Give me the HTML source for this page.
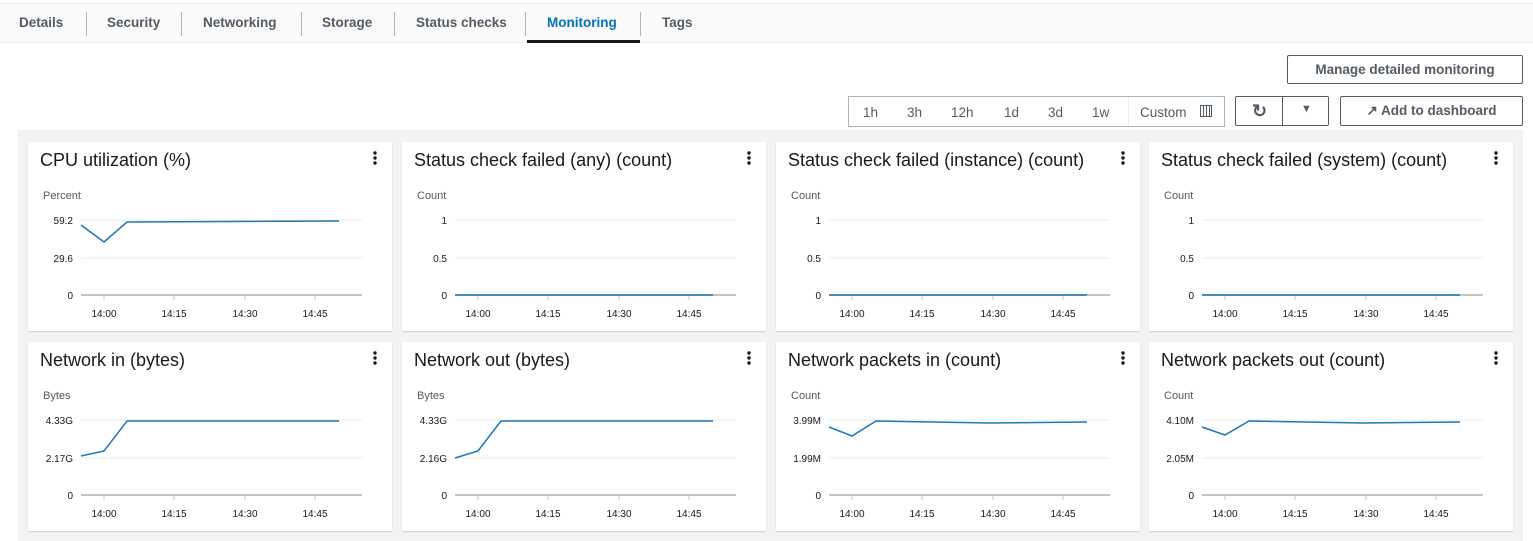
<!DOCTYPE html>
<html><head><meta charset="utf-8"><style>
*{margin:0;padding:0;box-sizing:border-box}
body{width:1533px;height:541px;background:#fff;font-family:"Liberation Sans",sans-serif;position:relative;overflow:hidden;color:#16191f}
.tabs{position:absolute;left:0;top:3px;width:1533px;height:40px;background:#fafafa;border-top:1px solid #eaeded;border-bottom:1px solid #eaeded}
.tab{position:absolute;top:11px;font-size:13.5px;font-weight:bold;color:#545b64}
.sep{position:absolute;top:8px;width:1px;height:24px;background:#aab7b8}
.btn{position:absolute;border:1px solid #545b64;border-radius:2px;font-size:13.5px;font-weight:bold;color:#545b64;text-align:center;background:#fff}
.gray{position:absolute;left:18px;top:130px;width:1505px;height:411px;background:#f2f3f3}
.card{position:absolute;width:364px;height:189px;background:#fff;box-shadow:0 1px 1px rgba(0,0,0,.15)}
.card svg{position:absolute;left:0;top:0}
</style></head><body>
<div class="tabs">
<span class="tab" style="left:19px">Details</span><div class="sep" style="left:86px"></div>
<span class="tab" style="left:107px">Security</span><div class="sep" style="left:181px"></div>
<span class="tab" style="left:203px">Networking</span><div class="sep" style="left:301px"></div>
<span class="tab" style="left:322px">Storage</span><div class="sep" style="left:394px"></div>
<span class="tab" style="left:416px">Status checks</span><div class="sep" style="left:525px"></div>
<span class="tab" style="left:547px;color:#0073bb">Monitoring</span>
<div style="position:absolute;left:527px;top:36px;width:113px;height:3px;background:#16191f"></div><div class="sep" style="left:640px"></div>
<span class="tab" style="left:662px">Tags</span>
</div>
<div class="btn" style="left:1287px;top:55px;width:236px;height:29px;line-height:27px">Manage detailed monitoring</div>
<div style="position:absolute;left:848px;top:96px;width:377px;height:31px;border:1px solid #aab7b8;font-size:13.5px;color:#545b64">
<span style="position:absolute;left:14px;top:8px">1h</span><span style="position:absolute;left:58px;top:8px">3h</span><span style="position:absolute;left:102px;top:8px">12h</span><span style="position:absolute;left:155px;top:8px">1d</span><span style="position:absolute;left:199px;top:8px">3d</span><span style="position:absolute;left:243px;top:8px">1w</span>
<div style="position:absolute;left:279px;top:0;width:1px;height:29px;background:#eaeded"></div>
<span style="position:absolute;left:291px;top:8px">Custom</span>
<span style="position:absolute;left:351px;top:8px;width:12px;height:12px;border:1.5px solid #545b64;background:repeating-linear-gradient(90deg,#fff 0 2px,#545b64 2px 3px)"></span>
</div>
<div class="btn" style="left:1235px;top:96px;width:94px;height:30px"><span style="position:absolute;left:0;top:4px;width:47px;font-size:18px">&#x21bb;</span><div style="position:absolute;left:46px;top:0;width:1px;height:28px;background:#545b64"></div><span style="position:absolute;left:47px;top:6px;width:47px;font-size:11px">&#9660;</span></div>
<div class="btn" style="left:1340px;top:96px;width:183px;height:30px;line-height:28px">&#x2197;&#xFE0E; Add to dashboard</div>
<div class="gray"></div>
<div id="cards"></div>
<script>
const C=[
[28,142,"CPU utilization (%)","Percent",["59.2","29.6","0"],[[53,83],[76,100],[99,80],[311,79]]],
[402,142,"Status check failed (any) (count)","Count",["1","0.5","0"],[[53,153],[311,153]]],
[776,142,"Status check failed (instance) (count)","Count",["1","0.5","0"],[[53,153],[311,153]]],
[1149,142,"Status check failed (system) (count)","Count",["1","0.5","0"],[[53,153],[311,153]]],
[28,342,"Network in (bytes)","Bytes",["4.33G","2.17G","0"],[[53,114],[76,109],[99,79],[311,79]]],
[402,342,"Network out (bytes)","Bytes",["4.33G","2.16G","0"],[[53,116],[76,109],[99,79],[311,79]]],
[776,342,"Network packets in (count)","Count",["3.99M","1.99M","0"],[[53,85],[76,94],[100,79],[214,81],[311,80]]],
[1149,342,"Network packets out (count)","Count",["4.10M","2.05M","0"],[[53,85],[76,93],[100,79],[214,81],[311,80]]]];
let h="";
for(const [x,y,t,u,yl,pts] of C){
let s=`<div class="card" style="left:${x}px;top:${y}px"><svg width="364" height="189" font-family="Liberation Sans, sans-serif">`;
s+=`<text x="12" y="24" font-size="18" fill="#16191f">${t}</text>`;
s+=`<circle cx="347" cy="11" r="1.7" fill="#16191f"/><circle cx="347" cy="16" r="1.7" fill="#16191f"/><circle cx="347" cy="21" r="1.7" fill="#16191f"/>`;
s+=`<text x="15" y="57" font-size="11" fill="#545b64">${u}</text>`;
[78,116,153].forEach((gy,i)=>{s+=`<line x1="53" x2="334" y1="${gy}" y2="${gy}" stroke="${i==2?'#c4c4c4':'#eaeded'}" stroke-width="${i==2?2:1}"/><text x="45" y="${gy+4}" font-size="10" text-anchor="end" fill="#16191f">${yl[i]}</text>`});
[[76,"14:00"],[146,"14:15"],[217,"14:30"],[287,"14:45"]].forEach(([tx,l])=>{s+=`<line x1="${tx}" x2="${tx}" y1="153" y2="158" stroke="#c4c4c4"/><text x="${tx}" y="175" font-size="10" text-anchor="middle" fill="#16191f">${l}</text>`});
s+=`<polyline fill="none" stroke="#1f77b4" stroke-width="1.5" points="${pts.map(p=>p.join(',')).join(' ')}"/>`;
s+=`</svg></div>`;h+=s;}
document.getElementById("cards").innerHTML=h;
</script>
</body></html>
